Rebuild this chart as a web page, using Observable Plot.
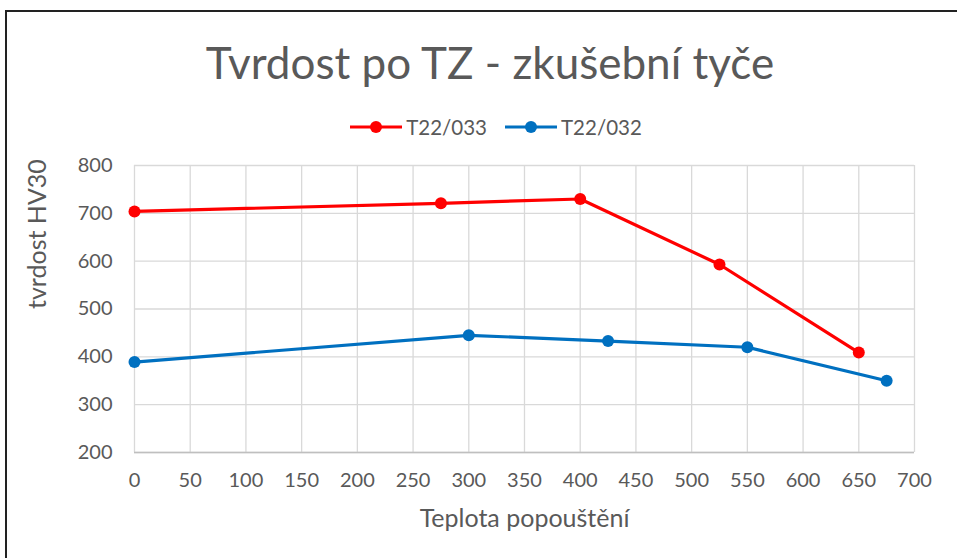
<!DOCTYPE html>
<html>
<head>
<meta charset="utf-8">
<script src="https://cdn.jsdelivr.net/npm/d3@7"></script>
<script src="https://cdn.jsdelivr.net/npm/@observablehq/plot@0.6"></script>
<style>
  html, body { margin: 0; padding: 0; background: #fff; overflow: hidden; }
  #wrap { position: relative; width: 957px; height: 558px; font-family: Lato, sans-serif; color: #595959; }
  #frame { position: absolute; left: 5px; top: 10px; width: 1000px; height: 600px; border: 2px solid #222; box-sizing: border-box; pointer-events: none; }
  #title { position: absolute; left: 0; width: 980px; top: 35px; text-align: center; font-size: 44px; line-height: 54px; color: #595959; }
  #legend { position: absolute; left: 0; width: 992px; top: 114px; display: flex; justify-content: center; gap: 18px; font-size: 20.5px; line-height: 26px; }
  .item { display: flex; align-items: center; gap: 4px; }
  #chart { position: absolute; left: 0; top: 0; }
</style>
</head>
<body>
<div id="wrap">
  <div id="chart"></div>
  <div id="frame"></div>
  <div id="title"></div>
  <div id="legend"></div>
</div>
<script>
const chartTitle = "Tvrdost po TZ - zkušební tyče";
const xLabel = "Teplota popouštění";
const yLabel = "tvrdost HV30";
const seriesNames = ["T22/033", "T22/032"];
const seriesColors = ["#ff0000", "#0070c0"];
const temp033 = [0, 275, 400, 525, 650];
const hv033 = [704, 721, 730, 593, 409];
const temp032 = [0, 300, 425, 550, 675];
const hv032 = [389, 445, 433, 420, 350];
const xTicks = [0, 50, 100, 150, 200, 250, 300, 350, 400, 450, 500, 550, 600, 650, 700];
const yTicks = [200, 300, 400, 500, 600, 700, 800];

const data = [
  ...temp033.map((t, i) => ({series: seriesNames[0], t, hv: hv033[i]})),
  ...temp032.map((t, i) => ({series: seriesNames[1], t, hv: hv032[i]}))
];

const fontFam = 'Lato, sans-serif';

const plot = Plot.plot({
  width: 957,
  height: 558,
  marginLeft: 134,
  marginRight: 43,
  marginTop: 165,
  marginBottom: 106,
  style: {fontFamily: fontFam, color: "#595959", background: "transparent"},
  x: {domain: [0, 700], label: null},
  y: {domain: [200, 800], label: null},
  color: {domain: seriesNames, range: seriesColors},
  marks: [
    Plot.gridX(xTicks, {stroke: "#d9d9d9", strokeOpacity: 1, strokeWidth: 1.3}),
    Plot.gridY(yTicks, {stroke: "#d9d9d9", strokeOpacity: 1, strokeWidth: 1.3}),
    Plot.ruleY([200], {stroke: "#bfbfbf", strokeWidth: 1.5}),
    Plot.axisX({ticks: xTicks, tickSize: 0, tickPadding: 20, fontSize: 20, label: null, fill: "#595959"}),
    Plot.axisY({ticks: yTicks, tickSize: 0, tickPadding: 22, fontSize: 20, label: null, fill: "#595959"}),
    Plot.line(data, {x: "t", y: "hv", z: "series", stroke: "series", strokeWidth: 3.2}),
    Plot.dot(data, {x: "t", y: "hv", fill: "series", r: 6, stroke: null}),
    Plot.text([xLabel], {frameAnchor: "bottom", dy: 74, text: d => d, fontSize: 25, fill: "#595959"}),
    Plot.text([yLabel], {frameAnchor: "left", dx: -97, rotate: -90, text: d => d, fontSize: 25, fill: "#595959"})
  ]
});
document.getElementById("chart").appendChild(plot);
document.getElementById("title").textContent = chartTitle;

const legend = document.getElementById("legend");
seriesNames.forEach((name, i) => {
  const item = document.createElement("div");
  item.className = "item";
  item.innerHTML = `<svg width="52" height="14"><line x1="0" y1="7" x2="52" y2="7" stroke="${seriesColors[i]}" stroke-width="3.2"/><circle cx="26" cy="7" r="6" fill="${seriesColors[i]}"/></svg><span>${name}</span>`;
  legend.appendChild(item);
});
</script>
</body>
</html>
